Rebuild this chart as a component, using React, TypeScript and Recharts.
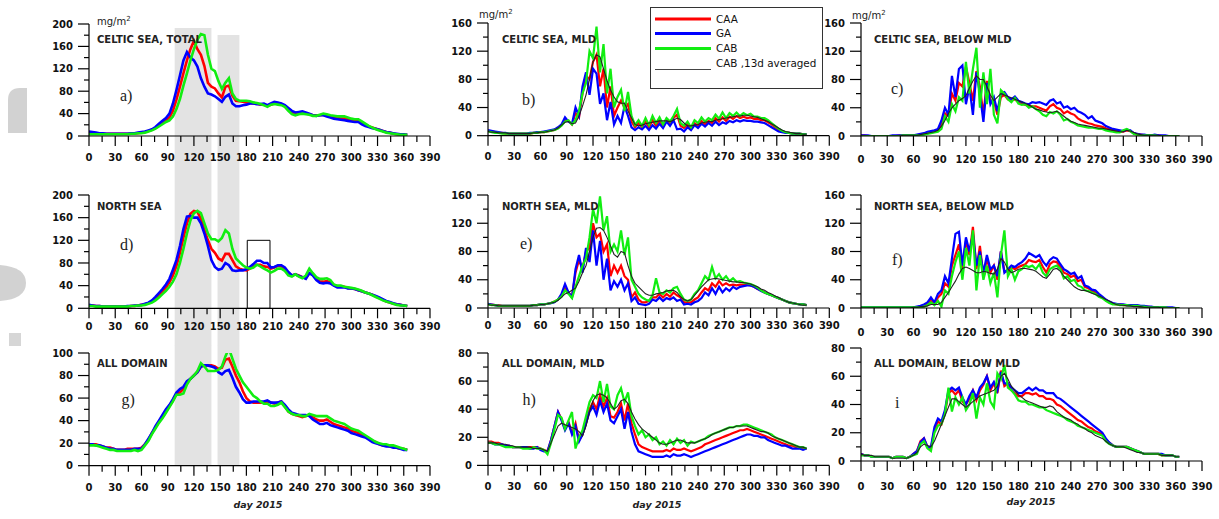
import React from 'react';
import { LineChart, Line, XAxis, YAxis, ReferenceArea, Legend } from 'recharts';

// ---------- x grid (day of 2015) and tick values ----------
const days = [
  0, 4, 8, 12, 16, 20, 24, 28, 32, 36,
  40, 44, 48, 52, 56, 60, 64, 68, 72, 76,
  80, 84, 88, 92, 96, 100, 104, 108, 112, 116,
  120, 124, 128, 132, 136, 140, 144, 148, 152, 156,
  160, 164, 168, 172, 176, 180, 184, 188, 192, 196,
  200, 204, 208, 212, 216, 220, 224, 228, 232, 236,
  240, 244, 248, 252, 256, 260, 264, 268, 272, 276,
  280, 284, 288, 292, 296, 300, 304, 308, 312, 316,
  320, 324, 328, 332, 336, 340, 344, 348, 352, 356,
  360, 364,
];
const xTicks = [0, 15, 30, 45, 60, 75, 90, 105, 120, 135, 150, 165, 180, 195, 210, 225, 240, 255, 270, 285, 300, 315, 330, 345, 360, 375, 390];
const yTicks200 = [0, 20, 40, 60, 80, 100, 120, 140, 160, 180, 200];
const yTicks160 = [0, 20, 40, 60, 80, 100, 120, 140, 160];
const yTicks100 = [0, 10, 20, 30, 40, 50, 60, 70, 80, 90, 100];
const yTicks80 = [0, 10, 20, 30, 40, 50, 60, 70, 80];

// ---------- a) CELTIC SEA, TOTAL ----------
const aCAA = [
  5, 5, 4, 4, 4, 4, 4, 4, 4, 4,
  4, 4, 4, 5, 5, 6, 7, 9, 11, 14,
  19, 24, 28, 33, 45, 65, 88, 112, 135, 155,
  170, 155, 145, 125, 95, 88, 85, 76, 69, 88,
  90, 72, 63, 62, 61, 60, 59, 58, 58, 56,
  56, 54, 56, 58, 58, 57, 53, 47, 42, 40,
  41, 42, 40, 39, 37, 37, 37, 38, 37, 35,
  33, 32, 31, 31, 30, 29, 28, 28, 24, 20,
  17, 15, 13, 11, 9, 7, 6, 4, 3, 3,
  2, 2,
];
const aGA = [
  8, 7, 6, 5, 5, 4, 4, 4, 4, 4,
  4, 4, 5, 5, 6, 7, 8, 10, 12, 16,
  22, 27, 32, 40, 58, 82, 108, 135, 150, 140,
  135, 124, 103, 88, 76, 74, 71, 66, 61, 70,
  74, 58, 53, 53, 55, 56, 58, 58, 57, 57,
  58, 55, 58, 61, 60, 58, 55, 50, 45, 42,
  43, 44, 42, 40, 37, 36, 37, 37, 35, 33,
  31, 30, 29, 28, 27, 26, 25, 25, 21, 18,
  16, 14, 13, 11, 9, 7, 6, 5, 4, 3,
  3, 2,
];
const aCAB = [
  3, 3, 3, 3, 3, 3, 3, 3, 3, 3,
  3, 3, 4, 4, 5, 5, 6, 8, 10, 13,
  17, 21, 25, 28, 35, 48, 66, 90, 112, 135,
  155, 172, 182, 180, 145, 120, 116, 98, 84, 95,
  103, 76, 66, 63, 63, 63, 62, 60, 59, 57,
  55, 52, 56, 57, 56, 55, 52, 45, 39, 37,
  39, 40, 39, 38, 36, 36, 38, 40, 39, 37,
  36, 35, 35, 35, 33, 31, 30, 30, 26, 22,
  18, 15, 12, 10, 8, 6, 5, 4, 3, 2,
  2, 2,
];

// ---------- b) CELTIC SEA, MLD ----------
const bCAA = [
  7, 6, 5, 4, 4, 3, 3, 3, 3, 3,
  3, 3, 3, 4, 4, 5, 5, 6, 7, 8,
  11, 15, 22, 21, 16, 32, 26, 60, 85, 80,
  105, 115, 70, 95, 40, 70, 28, 40, 50, 40,
  45, 20, 12, 18, 12, 20, 12, 22, 14, 22,
  14, 22, 17, 25, 30, 14, 11, 16, 10, 18,
  14, 21, 16, 21, 18, 25, 20, 26, 21, 27,
  24, 28, 25, 27, 25, 26, 24, 24, 22, 22,
  19, 16, 12, 8, 6, 5, 4, 3, 3, 3,
  2, 2,
];
const bGA = [
  8, 7, 6, 5, 4, 4, 3, 3, 3, 3,
  3, 3, 4, 4, 5, 5, 6, 7, 8, 9,
  12, 16, 26, 20, 17, 40, 28, 70, 90, 58,
  95, 88, 45, 60, 22, 48, 16, 28, 18, 42,
  28, 12, 8, 12, 9, 14, 8, 15, 10, 17,
  11, 20, 14, 22, 9, 10, 6, 12, 8, 15,
  11, 17, 13, 18, 14, 20, 15, 19, 17, 21,
  19, 22, 20, 22, 21, 21, 20, 20, 19, 18,
  15, 12, 9, 6, 5, 4, 4, 3, 3, 3,
  2, 2,
];
const bCAB = [
  6, 5, 4, 4, 3, 3, 3, 3, 3, 3,
  3, 3, 3, 4, 4, 5, 5, 6, 7, 8,
  10, 14, 20, 22, 16, 22, 35, 60, 75, 120,
  110, 155, 90, 130, 60, 95, 40, 55, 65, 35,
  62, 28, 15, 22, 14, 25, 15, 28, 18, 26,
  16, 25, 20, 28, 38, 18, 14, 20, 12, 22,
  18, 26, 20, 25, 22, 30, 24, 33, 25, 32,
  28, 33, 28, 32, 29, 31, 27, 27, 25, 25,
  22, 18, 14, 10, 7, 5, 4, 3, 3, 3,
  2, 2,
];
const bAVG = [
  6, 5, 5, 4, 4, 4, 3, 3, 3, 3,
  3, 3, 3, 4, 4, 5, 5, 6, 7, 8,
  11, 15, 19, 20, 17, 18, 28, 42, 58, 80,
  105, 115, 112, 95, 78, 65, 55, 48, 46, 46,
  35, 25, 16, 14, 15, 17, 18, 19, 20, 21,
  21, 21, 20, 22, 25, 23, 18, 14, 14, 15,
  16, 18, 19, 20, 20, 22, 23, 24, 25, 26,
  27, 28, 28, 29, 29, 28, 27, 26, 24, 22,
  20, 17, 14, 11, 8, 6, 5, 4, 3, 3,
  2, 2,
];

// ---------- c) CELTIC SEA, BELOW MLD ----------
const cCAA = [
  1, 1, 0, 0, 0, 0, 0, 0, 0, 0,
  0, 1, 1, 1, 1, 1, 1, 2, 3, 5,
  6, 7, 8, 18, 32, 28, 60, 50, 75, 70,
  98, 75, 50, 92, 70, 30, 78, 50, 50, 30,
  55, 58, 52, 50, 52, 48, 46, 44, 43, 42,
  42, 40, 38, 36, 42, 45, 40, 38, 32, 35,
  32, 30, 25, 22, 20, 18, 17, 15, 14, 13,
  11, 10, 8, 7, 6, 6, 8, 7, 4, 2,
  2, 1, 1, 1, 1, 1, 0, 0, 0, 0,
  0, 0,
];
const cGA = [
  1, 1, 1, 0, 0, 0, 0, 0, 0, 1,
  1, 1, 1, 1, 1, 1, 2, 3, 4, 6,
  7, 8, 10, 22, 40, 30, 85, 55, 95, 100,
  45, 70, 30, 90, 60, 20, 75, 45, 55, 35,
  60, 62, 55, 52, 56, 50, 48, 46, 45, 48,
  47, 48, 46, 44, 50, 52, 46, 48, 40, 42,
  38, 40, 35, 33, 30, 25, 28, 22, 20, 18,
  14, 12, 10, 9, 8, 7, 9, 8, 4, 3,
  2, 2, 1, 1, 2, 1, 1, 1, 0, 0,
  0, 0,
];
const cCAB = [
  0, 0, 0, 0, 0, 0, 0, 0, 0, 0,
  0, 0, 1, 1, 1, 1, 1, 1, 2, 3,
  4, 5, 6, 10, 28, 20, 45, 35, 55, 50,
  105, 60, 95, 125, 40, 90, 45, 95, 30, 18,
  65, 60, 52, 48, 54, 46, 44, 45, 40, 42,
  38, 35, 30, 28, 34, 32, 35, 30, 22, 24,
  20, 18, 15, 14, 13, 12, 12, 11, 10, 10,
  8, 7, 6, 5, 5, 8, 10, 7, 3, 2,
  1, 1, 1, 1, 1, 0, 0, 0, 0, 0,
  0, 0,
];
const cAVG = [
  0, 0, 0, 0, 0, 0, 0, 0, 0, 0,
  0, 0, 1, 1, 1, 1, 1, 2, 3, 4,
  5, 6, 8, 14, 22, 32, 40, 45, 50, 53,
  57, 68, 78, 85, 80, 80, 70, 58, 50, 55,
  60, 58, 56, 54, 52, 50, 48, 46, 44, 41,
  38, 37, 35, 34, 33, 34, 35, 32, 28, 24,
  21, 19, 17, 16, 15, 14, 13, 12, 11, 11,
  10, 9, 8, 7, 6, 6, 8, 7, 5, 3,
  2, 1, 1, 1, 1, 1, 0, 0, 0, 0,
  0, 0,
];

// ---------- d) NORTH SEA ----------
const dCAA = [
  5, 5, 4, 4, 3, 3, 3, 3, 3, 3,
  3, 3, 4, 4, 5, 6, 7, 9, 12, 17,
  23, 30, 37, 46, 58, 75, 98, 125, 150, 167,
  172, 170, 158, 138, 120, 105, 98, 88, 84, 96,
  96, 85, 74, 70, 68, 67, 70, 74, 77, 77,
  74, 73, 70, 72, 75, 74, 70, 62, 58, 60,
  58, 55, 53, 62, 60, 52, 47, 47, 48, 46,
  41, 39, 39, 38, 36, 35, 34, 32, 30, 28,
  26, 24, 21, 18, 15, 12, 10, 8, 7, 6,
  5, 4,
];
const dGA = [
  6, 5, 4, 4, 3, 3, 3, 3, 3, 3,
  3, 4, 4, 5, 5, 6, 8, 10, 14, 20,
  27, 34, 42, 52, 68, 85, 110, 140, 162, 163,
  160, 160, 150, 132, 110, 85, 73, 68, 70, 80,
  76, 67, 66, 67, 67, 69, 73, 78, 84, 84,
  80, 80, 72, 73, 76, 76, 72, 64, 58, 60,
  57, 55, 52, 62, 58, 50, 45, 44, 45, 44,
  40, 37, 37, 37, 35, 35, 34, 32, 30, 28,
  26, 24, 22, 19, 16, 13, 11, 9, 7, 6,
  5, 4,
];
const dCAB = [
  4, 4, 3, 3, 3, 3, 3, 3, 3, 3,
  3, 3, 4, 4, 5, 5, 6, 8, 10, 14,
  19, 25, 31, 38, 47, 60, 80, 105, 132, 155,
  168, 172, 168, 150, 132, 122, 122, 118, 124, 138,
  132, 105, 88, 82, 76, 72, 70, 72, 77, 74,
  70, 67, 63, 66, 70, 70, 66, 58, 56, 60,
  56, 53, 58, 70, 62, 55, 52, 52, 53, 50,
  42, 40, 40, 38, 37, 36, 35, 33, 31, 28,
  26, 23, 20, 17, 14, 12, 10, 8, 6, 5,
  5, 4,
];

// ---------- e) NORTH SEA, MLD ----------
const eCAA = [
  6, 5, 4, 4, 3, 3, 3, 3, 3, 3,
  3, 3, 3, 4, 4, 5, 5, 6, 7, 9,
  12, 18, 28, 22, 16, 50, 68, 55, 80, 85,
  120, 100, 105, 80, 90, 45, 60, 50, 60, 45,
  40, 15, 22, 12, 8, 8, 10, 15, 15, 20,
  15, 20, 16, 22, 18, 15, 8, 8, 8, 12,
  15, 22, 28, 25, 35, 30, 38, 32, 35, 32,
  33, 32, 33, 33, 33, 32, 30, 27, 25, 22,
  20, 18, 16, 14, 12, 10, 8, 7, 6, 5,
  5, 4,
];
const eGA = [
  6, 5, 4, 3, 3, 3, 3, 3, 3, 3,
  3, 3, 3, 4, 4, 5, 5, 6, 7, 8,
  12, 20, 34, 22, 15, 55, 75, 50, 85, 65,
  110, 60, 95, 40, 70, 25, 38, 30, 40, 25,
  35, 10, 15, 6, 5, 4, 6, 12, 10, 15,
  10, 14, 12, 15, 10, 12, 5, 6, 5, 8,
  10, 14, 22, 18, 28, 20, 30, 22, 28, 24,
  30, 27, 30, 31, 32, 32, 30, 27, 24, 22,
  20, 18, 16, 14, 12, 10, 8, 7, 6, 5,
  5, 4,
];
const eCAB = [
  5, 4, 4, 3, 3, 3, 3, 3, 3, 3,
  3, 3, 3, 4, 4, 5, 5, 6, 7, 9,
  12, 16, 25, 20, 14, 30, 45, 60, 70, 100,
  140, 120, 158, 110, 130, 80, 90, 80, 110, 75,
  100, 40, 30, 20, 15, 12, 10, 18, 42, 22,
  20, 25, 22, 28, 30, 20, 12, 10, 12, 20,
  25, 35, 45, 40, 58, 42, 48, 40, 45, 38,
  42, 37, 38, 36, 35, 34, 32, 29, 25, 22,
  20, 18, 16, 14, 12, 10, 8, 7, 6, 5,
  5, 4,
];
const eAVG = [
  5, 4, 4, 3, 3, 3, 3, 3, 3, 3,
  3, 3, 3, 4, 4, 5, 5, 6, 7, 8,
  11, 15, 20, 22, 25, 28, 38, 50, 60, 80,
  100, 113, 114, 110, 100, 88, 76, 72, 80, 78,
  60, 45, 35, 30, 25, 20, 18, 18, 20, 21,
  22, 24, 25, 25, 22, 16, 12, 10, 12, 18,
  24, 30, 35, 40, 41, 42, 41, 40, 39, 38,
  37, 37, 36, 36, 35, 34, 32, 30, 27, 25,
  22, 20, 17, 15, 12, 10, 8, 7, 6, 5,
  4, 4,
];

// ---------- f) NORTH SEA, BELOW MLD ----------
const fCAA = [
  1, 1, 1, 1, 1, 1, 1, 1, 1, 1,
  1, 1, 1, 1, 1, 1, 1, 2, 4, 6,
  10, 6, 15, 20, 35, 30, 60, 75, 90, 55,
  95, 75, 115, 55, 88, 45, 70, 50, 60, 40,
  80, 52, 52, 58, 55, 58, 60, 62, 68, 66,
  65, 68, 58, 50, 62, 66, 65, 58, 50, 48,
  44, 46, 38, 40, 30, 28, 24, 22, 18, 15,
  11, 8, 6, 5, 5, 4, 4, 4, 3, 3,
  2, 2, 2, 1, 1, 1, 1, 1, 0, 0,
  0, 0,
];
const fGA = [
  1, 1, 1, 1, 1, 1, 1, 1, 1, 1,
  1, 1, 1, 1, 1, 1, 2, 3, 5, 8,
  15, 8, 20, 25, 45, 35, 70, 105, 108, 60,
  100, 80, 105, 60, 80, 50, 75, 55, 60, 45,
  80, 50, 55, 60, 58, 62, 65, 70, 78, 75,
  72, 75, 66, 60, 68, 72, 70, 62, 55, 52,
  48, 50, 42, 45, 32, 30, 26, 25, 20, 16,
  12, 9, 7, 6, 5, 5, 4, 4, 4, 4,
  3, 3, 2, 2, 1, 1, 1, 1, 1, 1,
  0, 0,
];
const fCAB = [
  1, 1, 1, 1, 1, 1, 1, 1, 1, 1,
  1, 1, 1, 1, 1, 1, 1, 1, 2, 4,
  8, 4, 10, 2, 25, 20, 45, 65, 80, 40,
  85, 60, 110, 25, 75, 40, 60, 35, 50, 15,
  75, 110, 45, 55, 40, 52, 55, 60, 58, 60,
  55, 62, 50, 45, 55, 58, 60, 55, 42, 45,
  38, 40, 32, 30, 25, 24, 22, 20, 16, 14,
  10, 7, 5, 5, 4, 4, 4, 3, 3, 3,
  2, 2, 1, 1, 1, 1, 1, 1, 0, 0,
  0, 0,
];
const fAVG = [
  0, 0, 0, 0, 0, 0, 0, 0, 0, 0,
  0, 0, 0, 0, 0, 1, 1, 2, 2, 3,
  5, 5, 5, 8, 15, 22, 30, 38, 48, 56,
  58, 56, 53, 50, 50, 52, 51, 49, 48, 55,
  70, 65, 55, 50, 52, 55, 56, 56, 55, 54,
  52, 48, 44, 42, 48, 55, 56, 52, 45, 40,
  35, 30, 27, 25, 25, 23, 21, 19, 17, 15,
  12, 10, 7, 5, 4, 4, 3, 3, 2, 2,
  2, 1, 1, 1, 1, 1, 0, 0, 0, 0,
  0, 0,
];

// ---------- g) ALL DOMAIN ----------
const gCAA = [
  19, 19, 19, 18, 17, 16, 16, 15, 14, 14,
  14, 15, 15, 15, 15, 16, 19, 23, 29, 34,
  39, 43, 48, 53, 58, 64, 65, 68, 74, 77,
  80, 83, 88, 89, 89, 89, 88, 86, 87, 94,
  95, 88, 80, 74, 66, 60, 57, 56, 56, 56,
  56, 57, 56, 55, 56, 57, 53, 48, 46, 45,
  44, 43, 44, 45, 43, 41, 40, 40, 41, 39,
  37, 36, 35, 34, 33, 31, 30, 29, 27, 26,
  24, 22, 21, 19, 18, 18, 17, 17, 16, 15,
  15, 14,
];
const gGA = [
  19, 19, 18, 18, 17, 16, 15, 15, 14, 14,
  14, 14, 14, 15, 15, 15, 19, 24, 29, 35,
  40, 45, 50, 54, 59, 65, 68, 70, 75, 77,
  80, 83, 88, 89, 89, 88, 87, 83, 81, 84,
  85, 78, 70, 65, 59, 56, 56, 57, 57, 57,
  57, 58, 56, 56, 56, 57, 54, 50, 47, 46,
  45, 45, 45, 44, 41, 39, 37, 37, 38, 36,
  35, 34, 33, 32, 31, 29, 28, 27, 26, 25,
  23, 21, 20, 19, 18, 17, 17, 16, 16, 15,
  14, 14,
];
const gCAB = [
  18, 18, 18, 17, 16, 15, 14, 14, 13, 13,
  13, 13, 13, 14, 13, 14, 18, 22, 28, 33,
  38, 42, 47, 52, 57, 63, 63, 64, 72, 77,
  80, 84, 91, 88, 84, 84, 84, 85, 88, 97,
  104, 95, 86, 80, 74, 70, 66, 62, 60, 57,
  55, 55, 53, 53, 54, 56, 52, 48, 46, 45,
  45, 44, 44, 46, 45, 44, 44, 44, 44, 42,
  40, 39, 38, 37, 35, 33, 32, 31, 29, 27,
  25, 23, 21, 20, 19, 19, 18, 18, 17, 16,
  15, 14,
];

// ---------- h) ALL DOMAIN, MLD ----------
const hCAA = [
  17, 17, 16, 16, 15, 14, 14, 13, 13, 13,
  13, 13, 13, 13, 13, 12, 11, 10, 18, 28,
  38, 33, 26, 31, 23, 30, 18, 22, 30, 40,
  45, 40, 50, 42, 48, 35, 34, 38, 44, 32,
  44, 30, 22, 15, 13, 12, 11, 10, 10, 10,
  10, 11, 10, 12, 11, 11, 12, 11, 10, 11,
  12, 13, 15, 16, 17, 18, 19, 20, 21, 22,
  23, 24, 25, 25, 26, 25, 24, 23, 22, 21,
  20, 19, 18, 17, 16, 15, 14, 14, 13, 13,
  12, 12,
];
const hGA = [
  16, 16, 15, 15, 15, 14, 14, 13, 13, 13,
  13, 13, 12, 12, 13, 11, 10, 10, 18, 28,
  38, 32, 25, 30, 22, 28, 17, 22, 30, 38,
  42, 36, 46, 38, 44, 32, 30, 35, 40, 26,
  38, 24, 15, 10, 9, 8, 7, 6, 6, 6,
  6, 7, 6, 8, 7, 7, 8, 7, 6, 7,
  8, 9, 10, 11, 12, 13, 14, 15, 16, 17,
  18, 19, 20, 21, 22, 22, 21, 21, 20, 20,
  18, 17, 16, 15, 14, 14, 13, 12, 12, 12,
  11, 12,
];
const hCAB = [
  16, 16, 15, 15, 14, 13, 13, 13, 13, 13,
  12, 12, 12, 13, 12, 12, 11, 8, 16, 26,
  36, 34, 26, 32, 38, 12, 20, 25, 35, 45,
  50, 48, 60, 45, 58, 42, 40, 50, 55, 45,
  52, 35, 28, 22, 25, 20, 22, 18, 20, 15,
  17, 14, 18, 15, 19, 16, 18, 14, 17, 16,
  17, 18, 19, 21, 22, 23, 24, 25, 26, 27,
  27, 28, 28, 29, 29, 28, 27, 26, 25, 24,
  23, 22, 20, 19, 18, 17, 16, 15, 14, 13,
  13, 12,
];
const hAVG = [
  16, 16, 16, 15, 15, 15, 14, 14, 13, 13,
  13, 13, 13, 12, 12, 12, 11, 10, 16, 22,
  28, 30, 29, 28, 27, 26, 24, 21, 28, 38,
  46, 50, 51, 50, 48, 44, 40, 42, 46, 47,
  44, 38, 33, 29, 26, 24, 22, 20, 18, 16,
  15, 15, 16, 17, 18, 18, 17, 16, 16, 16,
  17, 18, 19, 20, 22, 23, 24, 25, 26, 27,
  27, 28, 28, 28, 28, 27, 26, 25, 24, 24,
  23, 21, 20, 19, 18, 17, 16, 15, 14, 13,
  13, 12,
];

// ---------- i) ALL DOMAIN, BELOW MLD ----------
const iCAA = [
  5, 4, 4, 3, 3, 3, 3, 3, 3, 2,
  3, 3, 3, 2, 3, 5, 7, 14, 16, 10,
  9, 22, 28, 26, 34, 48, 50, 47, 50, 42,
  40, 44, 50, 43, 50, 54, 60, 50, 55, 48,
  64, 53, 55, 50, 48, 46, 46, 48, 48, 47,
  48, 46, 46, 44, 44, 43, 40, 39, 37, 35,
  33, 31, 29, 28, 26, 24, 23, 21, 20, 19,
  15, 13, 11, 10, 10, 10, 10, 9, 8, 7,
  6, 5, 5, 5, 5, 5, 4, 4, 4, 4,
  3, 3,
];
const iGA = [
  5, 4, 4, 3, 3, 3, 3, 3, 3, 2,
  3, 3, 3, 2, 3, 5, 7, 13, 16, 10,
  10, 24, 30, 28, 36, 50, 52, 50, 52, 45,
  40, 46, 50, 45, 52, 55, 60, 52, 56, 50,
  63, 55, 55, 52, 50, 48, 48, 50, 52, 50,
  52, 50, 50, 48, 48, 48, 45, 44, 42, 40,
  38, 36, 34, 32, 30, 28, 26, 24, 22, 20,
  16, 13, 11, 10, 10, 10, 10, 9, 8, 7,
  6, 5, 5, 5, 5, 5, 5, 4, 4, 4,
  3, 3,
];
const iCAB = [
  4, 4, 4, 3, 3, 3, 3, 3, 3, 2,
  3, 3, 3, 2, 3, 4, 5, 12, 14, 9,
  7, 20, 25, 26, 33, 52, 35, 45, 40, 45,
  36, 40, 48, 30, 45, 40, 55, 42, 38, 62,
  58, 68, 52, 50, 47, 43, 42, 42, 40, 40,
  39, 38, 38, 36, 35, 34, 33, 32, 31, 29,
  28, 27, 25, 24, 23, 22, 21, 20, 19, 18,
  14, 12, 11, 10, 10, 10, 10, 9, 8, 7,
  6, 5, 5, 5, 5, 5, 4, 4, 4, 4,
  3, 3,
];
const iAVG = [
  5, 4, 4, 4, 3, 3, 3, 3, 3, 2,
  2, 2, 2, 2, 3, 4, 6, 10, 12, 11,
  10, 14, 20, 26, 32, 38, 44, 44, 42, 40,
  38, 40, 42, 44, 46, 47, 48, 49, 50, 53,
  60, 62, 58, 53, 50, 47, 45, 43, 42, 41,
  40, 39, 38, 38, 39, 38, 35, 33, 31, 30,
  29, 27, 26, 24, 23, 21, 20, 18, 17, 16,
  14, 12, 11, 10, 10, 10, 9, 8, 7, 6,
  6, 5, 5, 5, 5, 5, 4, 4, 4, 4,
  3, 3,
];

// ---------- series meta ----------
const seriesMeta = [
  { key: 'caa', name: 'CAA', color: '#ff0000' },
  { key: 'ga', name: 'GA', color: '#0000ff' },
  { key: 'cab', name: 'CAB', color: '#11ee11' },
  { key: 'avg', name: 'CAB ,13d averaged', color: '#222222' },
];

const TICK_FONT = { fontFamily: '"DejaVu Sans", Verdana, sans-serif', fontSize: 10, fontWeight: 700, fill: '#111' } as const;

type Cfg = {
  x0: number; x1: number; yTop: number; yBot: number;
  yMax: number; yTicks: number[]; yMajor: number; labelDy: number;
};

const makeXTick = (dy: number) => (p: any) => {
  const { x, y, payload } = p;
  const v = payload.value;
  const major = v % 30 === 0;
  return (
    <g>
      <line x1={x} x2={x} y1={y} y2={y + (major ? 10 : 6)} stroke="#000" strokeWidth={1.2} />
      {major && (
        <text x={x} y={y + dy} textAnchor="middle" style={TICK_FONT}>{v}</text>
      )}
    </g>
  );
};

const makeYTick = (majorStep: number) => (p: any) => {
  const { x, y, payload } = p;
  const v = payload.value;
  const major = v % majorStep === 0;
  return (
    <g>
      <line x1={x - (major ? 11 : 5)} x2={x} y1={y} y2={y} stroke="#000" strokeWidth={1.2} />
      {major && (
        <text x={x - 16} y={y + 3.6} textAnchor="end" style={TICK_FONT}>{v}</text>
      )}
    </g>
  );
};

const LegendBox = () => {
  const lineY = [12, 26.5, 41.5, 62.5];
  const textY = [12, 26, 41, 56.5];
  return (
    <div style={{ width: 173, height: 82, border: '1px solid #333', background: '#fff', boxSizing: 'border-box', position: 'relative' }}>
      <svg width={173} height={82} style={{ position: 'absolute', left: -1, top: -1 }}>
        {seriesMeta.map((e, i) => (
          <g key={e.key}>
            <line x1={5} x2={61} y1={lineY[i]} y2={lineY[i]} stroke={i === 3 ? '#444' : e.color} strokeWidth={i === 3 ? 1 : 3} />
            <text x={66} y={textY[i] + 3.8} style={{ fontFamily: '"DejaVu Sans", sans-serif', fontSize: 10.4, fill: '#111' }}>{e.name}</text>
          </g>
        ))}
      </svg>
    </div>
  );
};

function Panel({ cfg, caa, ga, cab, avg, thin, children, legend }: any) {
  const { x0, x1, yTop, yBot, yMax, yTicks, yMajor, labelDy } = cfg as Cfg;
  const left = x0 - 50;
  const top = yTop - 24;
  const width = (x1 - x0) + 60;
  const height = (yBot - yTop) + 64;
  const data = days.map((d, i) => ({ day: d, caa: caa[i], ga: ga[i], cab: cab[i], avg: avg ? avg[i] : undefined }));
  const sw = thin ? 2.2 : 2.6;
  return (
    <div style={{ position: 'absolute', left, top }}>
      <LineChart width={width} height={height} data={data} margin={{ top: 24, right: 10, bottom: 10, left: 0 }}>
        {children}
        <XAxis dataKey="day" type="number" domain={[0, 390]} ticks={xTicks} interval={0}
          tickSize={0} tickMargin={0} tickLine={false} height={30}
          axisLine={{ stroke: '#000', strokeWidth: 1.2 }} tick={makeXTick(labelDy)} allowDataOverflow />
        <YAxis type="number" domain={[0, yMax]} ticks={yTicks} interval={0}
          tickSize={0} tickMargin={0} tickLine={false} width={50}
          axisLine={{ stroke: '#000', strokeWidth: 1.2 }} tick={makeYTick(yMajor)} allowDataOverflow />
        <Line dataKey="caa" name="CAA" type="linear" stroke={seriesMeta[0].color} strokeWidth={sw} dot={false} activeDot={false} isAnimationActive={false} />
        <Line dataKey="ga" name="GA" type="linear" stroke={seriesMeta[1].color} strokeWidth={sw} dot={false} activeDot={false} isAnimationActive={false} />
        <Line dataKey="cab" name="CAB" type="linear" stroke={seriesMeta[2].color} strokeWidth={sw} dot={false} activeDot={false} isAnimationActive={false} />
        {avg && (
          <Line dataKey="avg" name="CAB ,13d averaged" type="linear" stroke={seriesMeta[3].color} strokeWidth={1.1} dot={false} activeDot={false} isAnimationActive={false} />
        )}
        {legend && (
          <Legend layout="horizontal" verticalAlign="middle" align="center"
            wrapperStyle={{ left: 650 - left, top: 7 - top, width: 173, height: 82 }}
            content={LegendBox} />
        )}
      </LineChart>
    </div>
  );
}

const L = {
  a: { x0: 89, x1: 430, yTop: 24, yBot: 136, yMax: 200, yTicks: yTicks200, yMajor: 40, labelDy: 24.5 },
  b: { x0: 487.7, x1: 829, yTop: 23.3, yBot: 136, yMax: 160, yTicks: yTicks160, yMajor: 40, labelDy: 24.5 },
  c: { x0: 861, x1: 1202, yTop: 23.3, yBot: 136.3, yMax: 160, yTicks: yTicks160, yMajor: 40, labelDy: 26.5 },
  d: { x0: 89, x1: 430, yTop: 195, yBot: 308.3, yMax: 200, yTicks: yTicks200, yMajor: 40, labelDy: 21.5 },
  e: { x0: 487.7, x1: 829, yTop: 195, yBot: 308, yMax: 160, yTicks: yTicks160, yMajor: 40, labelDy: 21.5 },
  f: { x0: 861, x1: 1202, yTop: 195, yBot: 308, yMax: 160, yTicks: yTicks160, yMajor: 40, labelDy: 28 },
  g: { x0: 89, x1: 430, yTop: 353.3, yBot: 466, yMax: 100, yTicks: yTicks100, yMajor: 20, labelDy: 25.5 },
  h: { x0: 487.7, x1: 829, yTop: 353.3, yBot: 465.7, yMax: 80, yTicks: yTicks80, yMajor: 20, labelDy: 25 },
  i: { x0: 861, x1: 1202, yTop: 348.3, yBot: 461.3, yMax: 80, yTicks: yTicks80, yMajor: 20, labelDy: 28.5 },
};

const BAND = '#e3e3e3';
const bands = (top1: number, top2: number, bottom: number) => [
  <ReferenceArea key="b1" x1={98} x2={140} y1={bottom} y2={top1} ifOverflow="visible" fill={BAND} fillOpacity={1} stroke="none" />,
  <ReferenceArea key="b2" x1={147} x2={172} y1={bottom} y2={top2} ifOverflow="visible" fill={BAND} fillOpacity={1} stroke="none" />,
];

const titles = [
  { t: 'CELTIC SEA, TOTAL', x: 97, y: 43.3 },
  { t: 'CELTIC SEA, MLD', x: 502, y: 43 },
  { t: 'CELTIC SEA, BELOW MLD', x: 874, y: 43.3 },
  { t: 'NORTH SEA', x: 97, y: 210 },
  { t: 'NORTH SEA, MLD', x: 502, y: 210 },
  { t: 'NORTH SEA, BELOW MLD', x: 874, y: 210 },
  { t: 'ALL DOMAIN', x: 97, y: 366.5 },
  { t: 'ALL DOMAIN, MLD', x: 502, y: 366.5 },
  { t: 'ALL DOMAIN, BELOW MLD', x: 874, y: 366.5 },
];
const letters = [
  { t: 'a)', x: 120, y: 100.5 }, { t: 'b)', x: 522, y: 105 }, { t: 'c)', x: 891, y: 94 },
  { t: 'd)', x: 120, y: 249.5 }, { t: 'e)', x: 520, y: 249 }, { t: 'f)', x: 892, y: 265 },
  { t: 'g)', x: 121.5, y: 405 }, { t: 'h)', x: 522.5, y: 405 }, { t: 'i', x: 895, y: 407.5 },
];
const units = [{ x: 97, y: 25 }, { x: 479, y: 18 }, { x: 852, y: 18.5 }];
const dayLabels = [{ x: 258, y: 508 }, { x: 657, y: 508 }, { x: 1031, y: 505 }];

export default function App() {
  return (
    <div style={{ position: 'absolute', left: 0, top: 0, width: 1219, height: 519, background: '#fff', overflow: 'hidden' }}>
      <style>{`.recharts-surface{overflow:visible}`}</style>

      <Panel cfg={L.a} caa={aCAA} ga={aGA} cab={aCAB}>
        {bands(192.9, 180.4, -71.4)}
      </Panel>
      <Panel cfg={L.b} caa={bCAA} ga={bGA} cab={bCAB} avg={bAVG} thin legend />
      <Panel cfg={L.c} caa={cCAA} ga={cGA} cab={cCAB} avg={cAVG} thin />

      <Panel cfg={L.d} caa={dCAA} ga={dGA} cab={dCAB}>
        {bands(233.5, 233.5, -66.5)}
        <ReferenceArea x1={181} x2={207} y1={0} y2={120} ifOverflow="visible" fill="none" stroke="#000" strokeWidth={1} />
      </Panel>
      <Panel cfg={L.e} caa={eCAA} ga={eGA} cab={eCAB} avg={eAVG} thin />
      <Panel cfg={L.f} caa={fCAA} ga={fGA} cab={fCAB} avg={fAVG} thin />

      <Panel cfg={L.g} caa={gCAA} ga={gGA} cab={gCAB}>
        {bands(106.5, 106.5, 0)}
      </Panel>
      <Panel cfg={L.h} caa={hCAA} ga={hGA} cab={hCAB} avg={hAVG} thin />
      <Panel cfg={L.i} caa={iCAA} ga={iGA} cab={iCAB} avg={iAVG} thin />

      <svg width={1219} height={519} style={{ position: 'absolute', left: 0, top: 0, pointerEvents: 'none' }}>
        <path d="M8,133 L8,100 Q8,88 20,88 L27,88 L27,133 Z" fill="#d2d2d2" />
        <path d="M0,265 Q26,267 26,283 Q26,299 0,301 Z" fill="#d2d2d2" />
        <rect x={9} y={333} width={12} height={13} fill="#d6d6d6" />
        {titles.map((d, k) => (
          <text key={'t' + k} x={d.x} y={d.y} style={{ fontFamily: '"DejaVu Sans", sans-serif', fontSize: 10, fontWeight: 700, fill: '#222' }}>{d.t}</text>
        ))}
        {letters.map((d, k) => (
          <text key={'l' + k} x={d.x} y={d.y} style={{ fontFamily: '"Liberation Serif", "Times New Roman", serif', fontSize: 16, fill: '#222' }}>{d.t}</text>
        ))}
        {units.map((d, k) => (
          <text key={'u' + k} x={d.x} y={d.y} style={{ fontFamily: '"DejaVu Sans", sans-serif', fontSize: 10, fill: '#222' }}>
            mg/m<tspan dy={-4} style={{ fontSize: 7 }}>2</tspan>
          </text>
        ))}
        {dayLabels.map((d, k) => (
          <text key={'d' + k} x={d.x} y={d.y} textAnchor="middle" style={{ fontFamily: '"DejaVu Sans", sans-serif', fontSize: 9.5, fontWeight: 700, fontStyle: 'italic', fill: '#222' }}>day 2015</text>
        ))}
      </svg>
    </div>
  );
}
